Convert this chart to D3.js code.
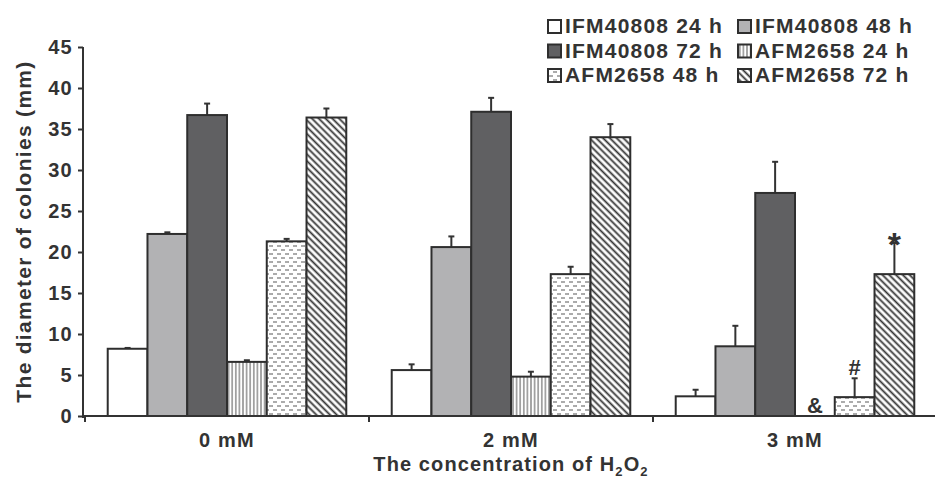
<!DOCTYPE html>
<html>
<head>
<meta charset="utf-8">
<script src="https://cdn.jsdelivr.net/npm/d3@7"></script>
<style>
  body{margin:0;background:#fff;}
  text{font-family:"Liberation Sans",Arial,sans-serif;font-weight:bold;fill:#333;}
</style>
</head>
<body>
<div id="canvas"></div>
<script>
// data
var groups = ['0 mM','2 mM','3 mM'];
var series = ['IFM40808 24 h','IFM40808 48 h','IFM40808 72 h','AFM2658 24 h','AFM2658 48 h','AFM2658 72 h'];
var mean0 = [8.2, 22.2, 36.7, 6.6, 21.3, 36.4];
var mean2 = [5.6, 20.6, 37.1, 4.8, 17.3, 34.0];
var mean3 = [2.4, 8.5, 27.2, 0, 2.3, 17.3];
var err0 = [0.1, 0.2, 1.4, 0.2, 0.3, 1.1];
var err2 = [0.7, 1.3, 1.7, 0.6, 0.9, 1.6];
var err3 = [0.8, 2.5, 3.8, 0, 2.3, 3.8];
var marks3 = ['', '', '', '&', '#', '*'];
var yTicks = [0,5,10,15,20,25,30,35,40,45];

var W = 935, H = 481;
var m = {t:47, r:-2, b:65, l:85};
var baseY = H - m.b; // 416

var svg = d3.select('#canvas').append('svg')
    .attr('width',W).attr('height',H);

// fills / patterns
var defs = svg.append('defs');
var p1 = defs.append('pattern').attr('id','vl').attr('patternUnits','userSpaceOnUse')
    .attr('width',3.6).attr('height',4);
p1.append('rect').attr('width',3.6).attr('height',4).attr('fill','#fff');
p1.append('line').attr('x1',1.8).attr('x2',1.8).attr('y1',0).attr('y2',4)
    .attr('stroke','#555').attr('stroke-width',1);

var p2 = defs.append('pattern').attr('id','dash').attr('patternUnits','userSpaceOnUse')
    .attr('width',8).attr('height',8);
p2.append('rect').attr('width',8).attr('height',8).attr('fill','#fff');
p2.append('line').attr('x1',1).attr('x2',5).attr('y1',2).attr('y2',2)
    .attr('stroke','#888').attr('stroke-width',1.4);
p2.append('line').attr('x1',5).attr('x2',8).attr('y1',6).attr('y2',6)
    .attr('stroke','#888').attr('stroke-width',1.4);
p2.append('line').attr('x1',0).attr('x2',1).attr('y1',6).attr('y2',6)
    .attr('stroke','#888').attr('stroke-width',1.4);

var p3 = defs.append('pattern').attr('id','diag').attr('patternUnits','userSpaceOnUse')
    .attr('width',4.8).attr('height',8).attr('patternTransform','rotate(-45)');
p3.append('rect').attr('width',4.8).attr('height',8).attr('fill','#fff');
p3.append('line').attr('x1',2.4).attr('x2',2.4).attr('y1',0).attr('y2',8)
    .attr('stroke','#333').attr('stroke-width',1.8);

var fills = ['#fff','#b2b2b4','#606062','url(#vl)','url(#dash)','url(#diag)'];

// scales
var x0 = d3.scaleBand().domain(groups).range([m.l, W - m.r])
    .paddingInner(0.16).paddingOuter(0.08);
var x1 = d3.scaleBand().domain(series).range([0, x0.bandwidth()]);
var y = d3.scaleLinear().domain([0,45]).range([baseY, m.t]);

var means = [mean0, mean2, mean3];
var errs = [err0, err2, err3];
var rows = [];
groups.forEach(function(g,i){
  series.forEach(function(s,j){
    rows.push({group:g, series:s, idx:j, mean:means[i][j], err:errs[i][j],
      mark: i==2 ? marks3[j] : ''});
  });
});

// error bars (under the bars so the outline sits on top)
var eb = svg.append('g').selectAll('g')
    .data(rows.filter(function(d){return d.mean>0}))
    .enter().append('g')
    .attr('transform',function(d){return 'translate('+(x0(d.group)+x1(d.series)+x1.bandwidth()/2)+',0)'});
eb.append('line').attr('y1',function(d){return y(d.mean)}).attr('y2',function(d){return y(d.mean+d.err)})
    .attr('stroke','#333').attr('stroke-width',2);
eb.append('line').attr('x1',-3).attr('x2',3)
    .attr('y1',function(d){return y(d.mean+d.err)}).attr('y2',function(d){return y(d.mean+d.err)})
    .attr('stroke','#333').attr('stroke-width',2);

// bars
svg.append('g').selectAll('rect')
    .data(rows.filter(function(d){return d.mean>0}))
    .enter().append('rect')
    .attr('x',function(d){return x0(d.group)+x1(d.series)})
    .attr('y',function(d){return y(d.mean)})
    .attr('width',x1.bandwidth())
    .attr('height',function(d){return baseY - y(d.mean)})
    .attr('fill',function(d){return fills[d.idx]})
    .attr('stroke','#2e2e2e').attr('stroke-width',2);

// significance marks
svg.append('g').selectAll('text')
    .data(rows.filter(function(d){return d.mark}))
    .enter().append('text')
    .attr('x',function(d){return x0(d.group)+x1(d.series)+x1.bandwidth()/2})
    .attr('y',function(d){return d.mean>0 ? y(d.mean+d.err)-3 : baseY-3})
    .attr('text-anchor','middle')
    .style('font-size',function(d){return d.mark=='*' ? '34px' : '22px'})
    .attr('dy',function(d){return d.mark=='*' ? '16' : '0'})
    .text(function(d){return d.mark});

// y axis
var axisY = d3.axisLeft(y).tickValues(yTicks).tickSize(5).tickPadding(5);
var gy = svg.append('g').attr('transform','translate('+(m.l-2)+',0)').call(axisY);
gy.select('.domain').attr('d','M0,'+y(45)+'V'+(baseY+2)).attr('stroke','#333').attr('stroke-width',2);
gy.selectAll('.tick line').attr('stroke','#333').attr('stroke-width',2);
gy.selectAll('.tick text').style('font-size','20px').style('letter-spacing','1.3px')
    .attr('font-family',null).attr('fill','#333');

// x axis: group labels and separator ticks
var axisX = d3.axisBottom(x0).tickSize(0).tickPadding(17);
var gx = svg.append('g').attr('transform','translate(0,'+baseY+')').call(axisX);
gx.select('.domain').attr('d','M'+(m.l-2)+',0H'+W).attr('stroke','#333').attr('stroke-width',2);
gx.selectAll('.tick text').style('font-size','20px').style('letter-spacing','1.2px')
    .attr('font-family',null).attr('fill','#333');
var half = x0.step()*x0.paddingInner()/2;
var seps = groups.map(function(g){return x0(g)-half});
gx.selectAll('.sep').data(seps).enter().append('line').attr('class','sep')
    .attr('x1',function(d){return d}).attr('x2',function(d){return d})
    .attr('y1',0).attr('y2',6).attr('stroke','#333').attr('stroke-width',2);

// axis titles
svg.append('text').attr('transform','translate(31,'+((m.t+baseY)/2)+') rotate(-90)')
    .attr('text-anchor','middle').style('font-size','21px').style('letter-spacing','1.3px')
    .text('The diameter of colonies (mm)');

var xt = svg.append('text').attr('x',x0(groups[1])+x0.bandwidth()/2).attr('y',471)
    .attr('text-anchor','middle').style('font-size','20px').style('letter-spacing','1.1px');
xt.append('tspan').text('The concentration of H');
xt.append('tspan').attr('dy',5).style('font-size','13px').text('2');
xt.append('tspan').attr('dy',-5).text('O');
xt.append('tspan').attr('dy',5).style('font-size','13px').text('2');

// legend
var leg = svg.append('g').selectAll('g').data(series).enter().append('g')
    .attr('transform',function(d,i){return 'translate('+(i%2==0 ? 548 : 738)+','+(33+Math.floor(i/2)*24.5)+')'});
leg.append('rect').attr('x',0).attr('y',-13).attr('width',13).attr('height',13)
    .attr('fill',function(d,i){return fills[i]})
    .attr('stroke','#2e2e2e').attr('stroke-width',2);
leg.append('text').attr('x',17).attr('y',0)
    .style('font-size','21px').style('letter-spacing','1.2px')
    .text(function(d){return d});
</script>
</body>
</html>
